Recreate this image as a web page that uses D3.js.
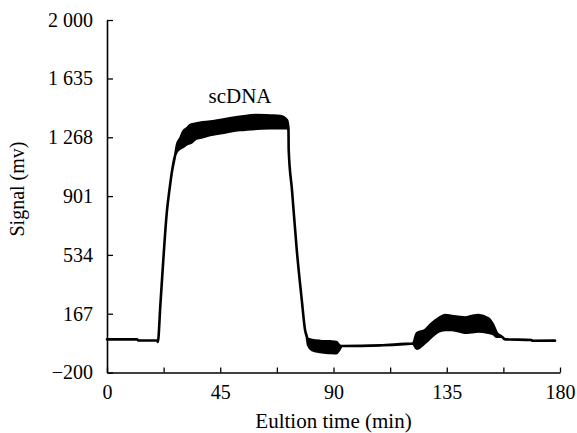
<!DOCTYPE html>
<html>
<head>
<meta charset="utf-8">
<script src="https://cdn.jsdelivr.net/npm/d3@7"></script>
<style>
  body { margin: 0; background: #fff; }
  text { font-family: "Liberation Serif", "Times New Roman", serif; fill: #000; }
</style>
</head>
<body>
<div id="chart"></div>
<script>
// elution trace (min, mv); low/high = noisy band edges
var timeMin = [0, 12, 12.4, 20.1, 20.2, 21.2, 22.5, 23.8, 24.9, 25.8, 27.1, 27.8, 29.1, 30.4, 31.8, 33.1,
    35.7, 37.0, 41.0, 45.0, 52.9, 59.6, 64.8, 68.8, 71.5, 72.1, 72.2, 73.5, 75.4, 77.4, 78.7, 79.4,
    79.9, 81.5, 84.7, 88.7, 91.1, 92.2, 93.4, 108.5, 121.6, 123.1, 126.4, 128.8, 131.7, 134.3, 137.0,
    139.6, 142.3, 144.9, 147.6, 151.5, 153.5, 154.9, 156.9, 158.2, 168.8, 168.9, 178];
var signalHigh = [7, 7, 0, 0, -10, 221, 533, 805, 950, 1053, 1157, 1220, 1262, 1307, 1324, 1345,
    1355, 1359, 1366, 1376, 1396, 1407, 1404, 1401, 1376, 1324, 1189, 940, 565, 252, 65, 23,
    9, 3, -3, -6, -10, -28, -35, -31, -19, 45, 65, 103, 138, 159, 153,
    148, 143, 153, 159, 138, 96, 47, 23, 7, 3, -2, -1];
var signalLow = [7, 7, 0, 0, -10, 221, 533, 805, 950, 1053, 1157, 1180, 1199, 1210, 1226, 1232,
    1262, 1265, 1282, 1293, 1313, 1321, 1324, 1324, 1324, 1313, 1189, 940, 565, 252, 65, 23,
    -29, -60, -72, -78, -80, -60, -35, -31, -19, -52, -15, 20, 55, 65, 66,
    58, 48, 52, 56, 48, 40, 23, 23, 7, 3, -2, -1];

var yTicks = [-200, 167, 534, 901, 1268, 1635, 2000];
var xTicks = d3.range(0, 181, 22.5);
var xLabels = [0, 45, 90, 135, 180];
var peakLabel = "scDNA";

var width = 577, height = 433;
var margin = {top: 20, left: 107, right: 17, bottom: 60.5};

var svg = d3.select("#chart")
    .append("svg")
    .attr("width", width)
    .attr("height", height);

svg.append("rect").attr("width", width).attr("height", height).attr("fill", "#fff");

var x = d3.scaleLinear().domain([0, 180]).range([margin.left, width - margin.right]);
var y = d3.scaleLinear().domain([-200, 2000]).range([height - margin.bottom, margin.top]);

var data = timeMin.map((t, i) => ({t: t, lo: signalLow[i], hi: signalHigh[i]}));

var area = d3.area()
    .x(d => x(d.t))
    .y0(d => y(d.lo))
    .y1(d => y(d.hi))
    .curve(d3.curveMonotoneX);

svg.append("path")
    .datum(data)
    .attr("d", area)
    .attr("fill", "#000")
    .attr("stroke", "#000")
    .attr("stroke-width", 2.6)
    .attr("stroke-linejoin", "round");

var fmt = d => d3.format(",")(d).replace(/,/g, " ");

var yAxis = svg.append("g")
    .attr("transform", "translate(" + margin.left + ",0)")
    .call(d3.axisLeft(y).tickValues(yTicks).tickFormat(fmt).tickSize(-6).tickSizeOuter(0).tickPadding(14));

var xAxis = svg.append("g")
    .attr("transform", "translate(0," + (height - margin.bottom) + ")")
    .call(d3.axisBottom(x).tickValues(xTicks)
        .tickFormat(d => xLabels.indexOf(d) >= 0 ? d : "")
        .tickSize(-5).tickSizeOuter(0).tickPadding(12));

[xAxis, yAxis].forEach(g => {
    g.select(".domain").attr("stroke", "#000").attr("stroke-width", 1.6);
    g.selectAll(".tick line").attr("stroke", "#000").attr("stroke-width", 1.3);
    g.selectAll(".tick text")
        .style("font-family", '"Liberation Serif", "Times New Roman", serif')
        .style("font-size", "20px");
});

svg.append("text")
    .attr("x", (x(0) + x(180)) / 2)
    .attr("y", 428)
    .attr("text-anchor", "middle")
    .style("font-size", "21px")
    .text("Eultion time (min)");

svg.append("text")
    .attr("transform", "translate(24," + 189 + ") rotate(-90)")
    .attr("text-anchor", "middle")
    .style("font-size", "20px")
    .text("Signal (mv)");

svg.append("text")
    .attr("x", 240)
    .attr("y", 103)
    .attr("text-anchor", "middle")
    .style("font-size", "21px")
    .text(peakLabel);
</script>
</body>
</html>
